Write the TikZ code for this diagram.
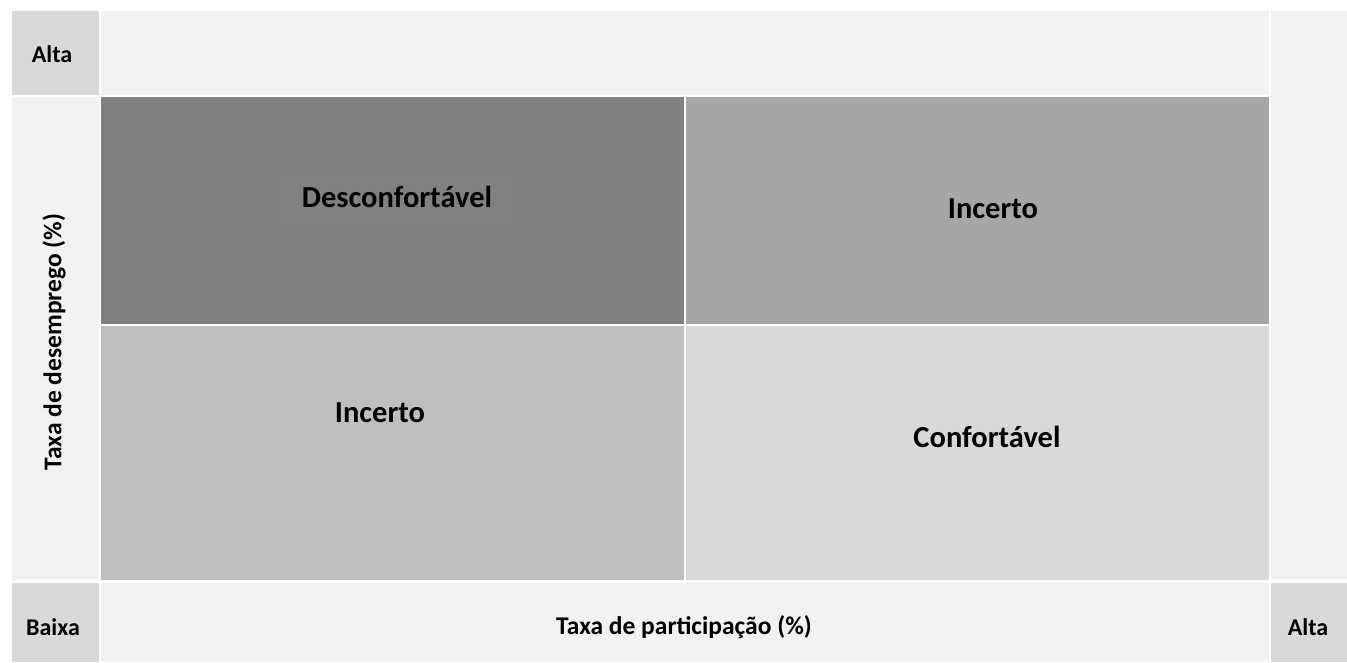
\documentclass[tikz,border=0pt]{standalone}
\usepackage{fontspec}
\setmainfont{Carlito}
\definecolor{cLight}{HTML}{F2F2F2}
\definecolor{cMid}{HTML}{D9D9D9}
\definecolor{cQa}{HTML}{808080}
\definecolor{cQb}{HTML}{A6A6A6}
\definecolor{cQc}{HTML}{BFBFBF}
\definecolor{cQd}{HTML}{D9D9D9}
\definecolor{cBox}{HTML}{818181}
\begin{document}
\begin{tikzpicture}[x=1pt,y=-1pt,
  small/.style={font=\bfseries\fontsize{24}{28}\selectfont, text=black, inner sep=0pt},
  axis/.style={font=\bfseries\fontsize{25.5}{30}\selectfont, text=black, inner sep=0pt},
  quad/.style={font=\bfseries\fontsize{30.5}{36}\selectfont, text=black, inner sep=0pt}]
\useasboundingbox[fill=white] (0,0) rectangle (1347,662);
% cells
\fill[cMid]   (12,11) rectangle (99,95);
\fill[cLight] (101,11) rectangle (1269,95);
\fill[cLight] (1271,11) rectangle (1347,580);
\fill[cLight] (12,97) rectangle (99,580);
\fill[cQa]    (101,97) rectangle (684,324);
\fill[cQb]    (686,97) rectangle (1269,324);
\fill[cQc]    (101,326) rectangle (684,580);
\fill[cQd]    (686,326) rectangle (1269,580);
\fill[cMid]   (12,583) rectangle (99,662);
\fill[cLight] (101,583) rectangle (1269,662);
\fill[cMid]   (1271,583) rectangle (1347,662);
% faint text box
\fill[cBox] (278,176) rectangle (514,226);
% labels
\node[small] (altaTop) at (52,54) {Alta};
\node[axis, rotate=90] (yaxis) at (54,342) {Taxa de desemprego (\%)};
\node[quad] (desc) at (397,197) {Desconfortável};
\node[quad] (incA) at (993,209) {Incerto};
\node[quad] (incB) at (380,413) {Incerto};
\node[quad] (conf) at (987,437) {Confortável};
\node[small] (baixa) at (53,627) {Baixa};
\node[axis] (xaxis) at (684,627) {Taxa de participação (\%)};
\node[small] (altaRight) at (1308,627) {Alta};
\end{tikzpicture}
\end{document}
